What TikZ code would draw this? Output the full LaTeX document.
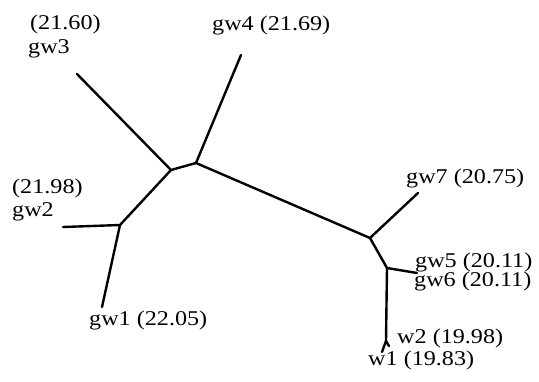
\documentclass[tikz,border=0pt]{standalone}
\usepackage{fontspec}
\setmainfont{Liberation Serif}
\newcommand{\lbltxt}[1]{\scalebox{1.15}[1]{#1}}
\begin{document}
\begin{tikzpicture}[x=1pt,y=-1pt,
  br/.style={line width=2.4pt, line cap=round, line join=round},
  lbl/.style={anchor=base west, inner sep=0pt, font=\fontsize{21}{22}\selectfont}]
\useasboundingbox (0,0) rectangle (539,381);
% tree points
\coordinate (A) at (171,170);
\coordinate (B) at (196,163);
\coordinate (C) at (120,225);
\coordinate (D) at (370,238);
\coordinate (E) at (387,268);
\coordinate (F) at (386,341);
\coordinate (l3) at (77,74);
\coordinate (l4) at (241,55);
\coordinate (l2) at (63,227);
\coordinate (l1) at (102,307);
\coordinate (l7) at (418,193);
\coordinate (l56) at (417,273);
\coordinate (lw1) at (382,352);
\coordinate (lw2) at (389,346);
% branches
\draw[br] (l3) -- (A) -- (B) -- (l4);
\draw[br] (A) -- (C) -- (l2);
\draw[br] (C) -- (l1);
\draw[br] (B) -- (D) -- (l7);
\draw[br] (D) -- (E) -- (l56);
\draw[br] (E) -- (F) -- (lw1);
\draw[br] (F) -- (lw2);
% labels
\node[lbl] (t3a) at (30,29) {\lbltxt{(21.60)}};
\node[lbl] (t3b) at (28,53) {\lbltxt{gw3}};
\node[lbl] (t4) at (212,30) {\lbltxt{gw4 (21.69)}};
\node[lbl] (t2a) at (12,193) {\lbltxt{(21.98)}};
\node[lbl] (t2b) at (12,216) {\lbltxt{gw2}};
\node[lbl] (t1) at (89,325) {\lbltxt{gw1 (22.05)}};
\node[lbl] (t7) at (406,183) {\lbltxt{gw7 (20.75)}};
\node[lbl] (t5) at (415,267) {\lbltxt{gw5 (20.11)}};
\node[lbl] (t6) at (414,286) {\lbltxt{gw6 (20.11)}};
\node[lbl] (tw2) at (397,343) {\lbltxt{w2 (19.98)}};
\node[lbl] (tw1) at (368,365) {\lbltxt{w1 (19.83)}};
\end{tikzpicture}
\end{document}
